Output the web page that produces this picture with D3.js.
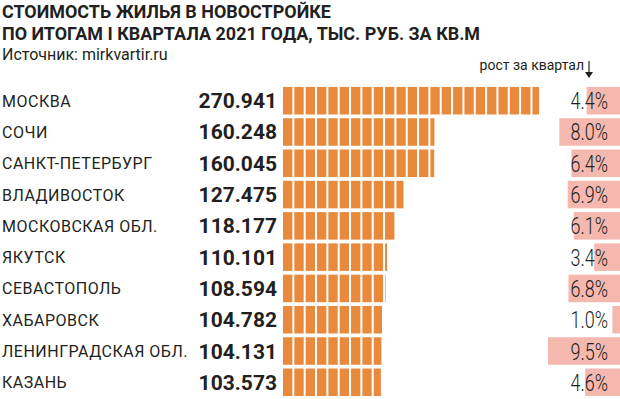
<!DOCTYPE html>
<html>
<head>
<meta charset="utf-8">
<script src="https://cdn.jsdelivr.net/npm/d3@7"></script>
<style>
  html, body { margin: 0; padding: 0; background: #fff; }
  svg { display: block; }
  text { font-family: Roboto, "Noto Sans", sans-serif; fill: #231f20; }
</style>
</head>
<body>
<svg id="chart" width="620" height="399"></svg>
<script>
const cities = ["МОСКВА", "СОЧИ", "САНКТ-ПЕТЕРБУРГ", "ВЛАДИВОСТОК", "МОСКОВСКАЯ ОБЛ.",
                "ЯКУТСК", "СЕВАСТОПОЛЬ", "ХАБАРОВСК", "ЛЕНИНГРАДСКАЯ ОБЛ.", "КАЗАНЬ"];
const prices = [270.941, 160.248, 160.045, 127.475, 118.177, 110.101, 108.594, 104.782, 104.131, 103.573];
const growth = [4.4, 8.0, 6.4, 6.9, 6.1, 3.4, 6.8, 1.0, 9.5, 4.6];

const titleLines = ["СТОИМОСТЬ ЖИЛЬЯ В НОВОСТРОЙКЕ", "ПО ИТОГАМ I КВАРТАЛА 2021 ГОДА, ТЫС. РУБ. ЗА КВ.М"];
const sourceText = "Источник: mirkvartir.ru";
const growthHeader = "рост за квартал";
const segmentStep = 12; // one orange block = 12 тыс. руб.

const orange = "#e8893c";
const pink = "#f5b8af";

const svg = d3.select("#chart");

const rows = cities.map((c, i) => ({ city: c, price: prices[i], growth: growth[i] }));

const y = d3.scaleBand()
    .domain(cities)
    .range([86, 397])
    .paddingInner(0.12)
    .paddingOuter(0.03);

const x = d3.scaleLinear()
    .domain([0, d3.max(prices)])
    .range([0, 256]);
const barLeft = 283;

const g = d3.scaleLinear()
    .domain([0, 9.5])
    .range([0, 72]);

// title
svg.selectAll("g.title")
    .data(titleLines)
    .enter()
    .append("g")
    .attr("class", "title")
    .attr("transform", (d, i) => `translate(2,${17.5 + i * 22}) scale(0.97,1)`)
    .append("text")
    .attr("font-size", 18.5)
    .attr("font-weight", 700)
    .attr("fill", "#111")
    .text(d => d);

svg.append("text")
    .attr("x", 2)
    .attr("y", 60)
    .attr("font-size", 16)
    .attr("fill", "#333")
    .text(sourceText);

svg.append("text")
    .attr("x", 584)
    .attr("y", 70)
    .attr("text-anchor", "end")
    .attr("font-size", 14)
    .text(growthHeader);

// arrow
svg.append("line")
    .attr("x1", 589).attr("x2", 589)
    .attr("y1", 61).attr("y2", 72)
    .attr("stroke", "#231f20")
    .attr("stroke-width", 1.2);
svg.append("path")
    .attr("d", "M585,72 L593,72 L589,78 Z")
    .attr("fill", "#231f20");

const row = svg.selectAll("g.row")
    .data(rows)
    .enter()
    .append("g")
    .attr("class", "row")
    .attr("transform", d => `translate(0,${y(d.city)})`);

const bh = y.bandwidth();

// growth background
row.append("rect")
    .attr("x", d => 620 - g(d.growth))
    .attr("y", 0)
    .attr("width", d => g(d.growth))
    .attr("height", bh)
    .attr("fill", pink);

// city label
row.append("text")
    .attr("x", 2)
    .attr("y", bh / 2 + 6)
    .attr("font-size", 16)
    .attr("letter-spacing", 0.5)
    .attr("fill", "#2b2b2b")
    .text(d => d.city);

// price value
row.append("text")
    .attr("x", 277)
    .attr("y", bh / 2 + 7.5)
    .attr("text-anchor", "end")
    .attr("font-size", 21)
    .attr("font-weight", 700)
    .text(d => d3.format(".3f")(d.price));

// segmented bars
row.each(function(d) {
    const w = x(d.price);
    const step = x(segmentStep);
    d3.select(this).selectAll("rect.seg")
        .data(d3.range(Math.ceil(w / step)))
        .enter()
        .append("rect")
        .attr("class", "seg")
        .attr("x", k => barLeft + k * step)
        .attr("y", 0)
        .attr("width", k => Math.min(step - 2, w - k * step))
        .attr("height", bh)
        .attr("fill", orange);
});

// growth value
row.append("g")
    .attr("transform", `translate(608,${bh / 2 + 8.5}) scale(0.78,1)`)
    .append("text")
    .attr("text-anchor", "end")
    .attr("font-size", 23)
    .attr("font-weight", 300)
    .attr("fill", "#333")
    .text(d => d3.format(".1f")(d.growth) + "%");
</script>
</body>
</html>
